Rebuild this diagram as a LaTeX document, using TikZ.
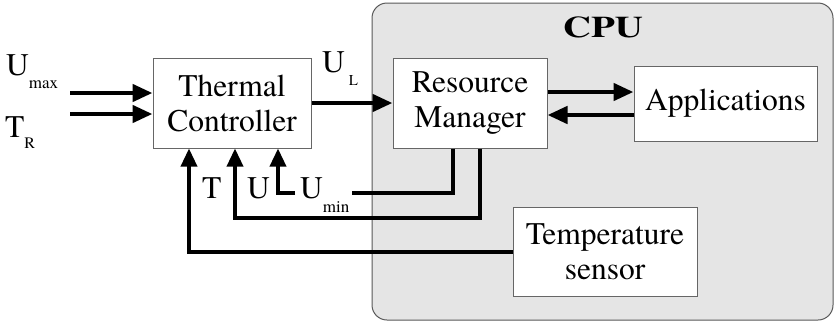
\documentclass[tikz,border=0pt]{standalone}
\usepackage{fontspec}
\setmainfont{texgyretermes}[Extension=.otf, UprightFont=*-regular, BoldFont=*-bold]
\usetikzlibrary{arrows.meta}
\begin{document}
\begin{tikzpicture}[x=1pt,y=-1pt,
 box/.style={draw=black!60, line width=1pt, fill=white, inner sep=0pt, align=center, font=\fontsize{31.5}{35}\selectfont},
 big/.style={line width=4.5pt, -{Triangle[length=20pt,width=17pt]}},
 fb/.style={line width=3.5pt},
 fba/.style={fb, -{Triangle[length=18pt,width=16pt]}},
 lbl/.style={inner sep=0pt, anchor=base west, font=\fontsize{31.5}{35}\selectfont},
]
\useasboundingbox (0,0) rectangle (836,325);
\draw[draw=black!65, fill=black!10, line width=1pt, rounded corners=15pt] (372,3) rectangle (833,320);
\node[inner sep=0pt, anchor=base, font=\bfseries\fontsize{30}{30}\selectfont] (cpu) at (603,37) {\scalebox{1.3}[1]{CPU}};

\node[box, minimum width=158pt, minimum height=90pt] (tc) at (232,103) {Thermal\\Controller};
\node[box, minimum width=154pt, minimum height=90pt] (rm) at (470,103) {Resource\\Manager};
\node[box, minimum width=183pt, minimum height=75pt] (app) at (725.5,103.5) {Applications};
\node[box, minimum width=184pt, minimum height=89pt] (ts) at (605,251.5) {Temperature\\sensor};

\node[lbl] (lumax) at (6,75) {U\raisebox{-13pt}{\fontsize{17}{17}\selectfont max}};
\node[lbl] (ltr) at (5,137) {T\raisebox{-11pt}{\fontsize{16}{16}\selectfont R}};
\node[lbl] (lul) at (322,72) {U\hspace{4pt}\raisebox{-13pt}{\fontsize{15}{15}\selectfont L}};
\node[lbl] (lt) at (202,198) {T};
\node[lbl] (lu) at (247,198) {U};
\node[lbl] (lumin) at (300,198) {U\raisebox{-14pt}{\fontsize{17}{17}\selectfont min}};

% inputs
\coordinate (in1) at (70,93);
\coordinate (in2) at (70,114);
\draw[big] (in1) -- (tc.west |- in1);
\draw[big] (in2) -- (tc.west |- in2);
% U_L
\draw[big] (tc.east) -- (rm.west);
% RM <-> Apps
\coordinate (a1) at (546,92);
\coordinate (a2) at (546,115);
\draw[big] (rm.east |- a1) -- (app.west |- a1);
\draw[big] (app.west |- a2) -- (rm.east |- a2);
% feedback
\coordinate (xa) at (453,193);
\coordinate (umend) at (352,193);
\draw[fb] (rm.south -| xa) -- (xa) -- (umend);
\coordinate (umstart) at (295,193);
\coordinate (xc) at (278,193);
\draw[fba] (umstart) -- (xc) -- (xc |- tc.south);
\coordinate (xb) at (480,218);
\coordinate (xd) at (235,218);
\draw[fba] (rm.south -| xb) -- (xb) -- (xd) -- (xd |- tc.south);
\coordinate (xe) at (189,252);
\draw[fba] (ts.west |- xe) -- (xe) -- (xe |- tc.south);
\end{tikzpicture}
\end{document}
